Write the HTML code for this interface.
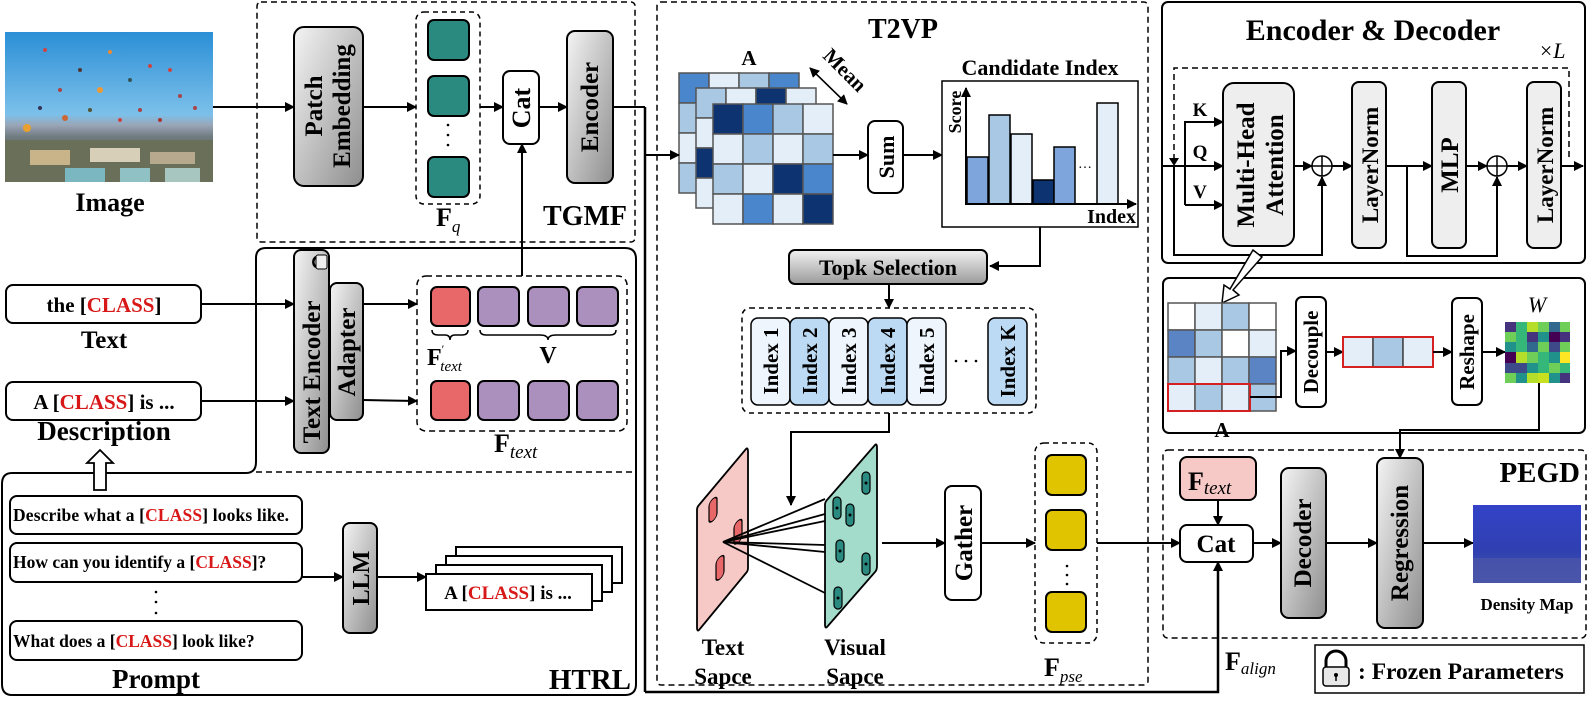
<!DOCTYPE html>
<html><head><meta charset="utf-8"><style>
html,body{margin:0;padding:0;background:#fff;}
svg{display:block;font-family:"Liberation Serif",serif;font-weight:bold;}
</style></head><body>
<svg width="1595" height="708" viewBox="0 0 1595 708" xmlns="http://www.w3.org/2000/svg">
<defs>
<marker id="ar" markerWidth="10" markerHeight="10" refX="9" refY="5" orient="auto" markerUnits="userSpaceOnUse">
<path d="M0,0 L10,5 L0,10 z" fill="#000"/></marker>
<linearGradient id="gg" x1="0" y1="0" x2="1" y2="1">
<stop offset="0" stop-color="#f4f4f4"/><stop offset="1" stop-color="#8e8e8e"/></linearGradient>
<linearGradient id="gv" x1="0" y1="0" x2="0" y2="1">
<stop offset="0" stop-color="#f2f2f2"/><stop offset="1" stop-color="#9a9a9a"/></linearGradient>
<linearGradient id="sky" x1="0" y1="0" x2="0" y2="1">
<stop offset="0" stop-color="#2b8fd6"/><stop offset="0.55" stop-color="#7cc0ea"/><stop offset="0.62" stop-color="#9aa6b8"/><stop offset="0.7" stop-color="#6f7a80"/><stop offset="1" stop-color="#4a5a50"/></linearGradient>
<linearGradient id="dm" x1="0" y1="0" x2="0" y2="1">
<stop offset="0" stop-color="#3342c8"/><stop offset="0.6" stop-color="#3040b0"/><stop offset="1" stop-color="#4a58b0"/></linearGradient>
</defs>
<g stroke="#000" stroke-width="2" fill="none">

<!-- Image -->
<rect x="5" y="32" width="208" height="150" fill="url(#sky)" stroke="none"/>
<g stroke="none">
<rect x="5" y="140" width="208" height="42" fill="#6a6f5a"/>
<rect x="30" y="150" width="40" height="15" fill="#c9b48a"/><rect x="90" y="148" width="50" height="14" fill="#d8cfb8"/><rect x="150" y="152" width="45" height="12" fill="#b7a98e"/>
<rect x="65" y="168" width="40" height="14" fill="#7bb7c0"/><rect x="120" y="168" width="30" height="14" fill="#8fc1c5"/><rect x="165" y="168" width="35" height="14" fill="#a7c6c0"/>
<circle cx="45" cy="50" r="2" fill="#c44"/><circle cx="110" cy="52" r="2" fill="#e83"/><circle cx="150" cy="66" r="2" fill="#c44"/><circle cx="80" cy="70" r="2" fill="#533"/><circle cx="60" cy="90" r="2" fill="#a44"/><circle cx="100" cy="90" r="3" fill="#e93"/><circle cx="130" cy="80" r="2" fill="#355"/><circle cx="170" cy="70" r="2" fill="#c44"/><circle cx="180" cy="96" r="2" fill="#a44"/><circle cx="27" cy="128" r="4" fill="#e9a030"/><circle cx="65" cy="118" r="3" fill="#c63"/><circle cx="140" cy="110" r="2" fill="#a44"/><circle cx="160" cy="120" r="2" fill="#a33"/><circle cx="40" cy="108" r="2" fill="#335"/><circle cx="195" cy="108" r="2" fill="#a44"/><circle cx="120" cy="120" r="2" fill="#c44"/><circle cx="90" cy="110" r="2" fill="#553"/>
</g>
<text x="110" y="211" font-size="26" fill="#000" stroke="none" text-anchor="middle">Image</text>

<!-- TGMF -->
<rect x="257" y="2" width="378" height="240" rx="4" stroke-dasharray="6,4" stroke-width="1.5"/>
<rect x="294" y="27" width="69" height="159" rx="10" fill="url(#gg)"/>
<text transform="translate(322,106) rotate(-90)" font-size="25" fill="#000" stroke="none" text-anchor="middle">Patch</text>
<text transform="translate(350,106) rotate(-90)" font-size="25" fill="#000" stroke="none" text-anchor="middle">Embedding</text>
<rect x="416" y="12" width="64" height="192" rx="8" stroke-dasharray="5,4" stroke-width="1.5"/>
<rect x="428" y="20" width="41" height="40" rx="6" fill="#2a8a80"/>
<rect x="428" y="76" width="41" height="40" rx="6" fill="#2a8a80"/>
<rect x="428" y="157" width="41" height="40" rx="6" fill="#2a8a80"/>
<g fill="#000" stroke="none"><circle cx="448" cy="125" r="1.3"/><circle cx="448" cy="135" r="1.3"/><circle cx="448" cy="145" r="1.3"/></g>
<rect x="503" y="71" width="36" height="73" rx="7" fill="#fff"/>
<text transform="translate(530,108) rotate(-90)" font-size="26" fill="#000" stroke="none" text-anchor="middle">Cat</text>
<rect x="567" y="31" width="46" height="152" rx="8" fill="url(#gg)"/>
<text transform="translate(598,107) rotate(-90)" font-size="25" fill="#000" stroke="none" text-anchor="middle">Encoder</text>
<line x1="213" y1="107" x2="294" y2="107" marker-end="url(#ar)"/>
<line x1="363" y1="107" x2="416" y2="107" marker-end="url(#ar)"/>
<line x1="480" y1="107" x2="503" y2="107" marker-end="url(#ar)"/>
<line x1="539" y1="107" x2="567" y2="107" marker-end="url(#ar)"/>
<text x="436" y="226" font-size="26" fill="#000" stroke="none">F<tspan font-style="italic" font-weight="normal" font-size="17" dy="6">q</tspan></text>
<text x="627" y="225" font-size="28" fill="#000" stroke="none" text-anchor="end">TGMF</text>

<!-- HTRL outline -->
<path d="M266,248 H625 Q636,248 636,259 V684 Q636,695 625,695 H12 Q2,695 2,684 V484 Q2,473 12,473 H246 Q256,473 256,462 V258 Q256,248 266,248 Z" stroke-width="2"/>
<line x1="256" y1="472" x2="636" y2="472" stroke-dasharray="6,4" stroke-width="1.5"/>
<rect x="294" y="250" width="35" height="203" rx="7" fill="url(#gg)"/>
<rect x="316" y="255" width="11" height="14" rx="2" fill="#eee" stroke-width="1"/>
<path d="M316,257 A6,6 0 0 0 316,267" stroke-width="2.5"/>
<text transform="translate(320,372) rotate(-90)" font-size="25" fill="#000" stroke="none" text-anchor="middle">Text Encoder</text>
<rect x="330" y="283" width="33" height="137" rx="7" fill="url(#gg)"/>
<text transform="translate(355,352) rotate(-90)" font-size="25" fill="#000" stroke="none" text-anchor="middle">Adapter</text>
<rect x="6" y="285" width="195" height="38" rx="7" fill="#fff"/>
<text x="104" y="312" font-size="21" fill="#000" stroke="none" text-anchor="middle">the [<tspan fill="#d81818">CLASS</tspan>]</text>
<text x="104" y="348" font-size="25" fill="#000" stroke="none" text-anchor="middle">Text</text>
<rect x="6" y="382" width="195" height="38" rx="7" fill="#fff"/>
<text x="104" y="409" font-size="21" fill="#000" stroke="none" text-anchor="middle">A [<tspan fill="#d81818">CLASS</tspan>] is ...</text>
<text x="104" y="440" font-size="27" fill="#000" stroke="none" text-anchor="middle">Description</text>
<line x1="201" y1="304" x2="294" y2="304" marker-end="url(#ar)"/>
<line x1="201" y1="401" x2="294" y2="401" marker-end="url(#ar)"/>
<line x1="363" y1="304" x2="417" y2="304" marker-end="url(#ar)"/>
<line x1="363" y1="400" x2="417" y2="401" marker-end="url(#ar)"/>
<rect x="417" y="276" width="210" height="155" rx="9" stroke-dasharray="6,4" stroke-width="1.5"/>
<rect x="431" y="287" width="39" height="39" rx="6" fill="#e8686a"/>
<rect x="478" y="287" width="41" height="39" rx="6" fill="#ab8fbd"/>
<rect x="528" y="287" width="41" height="39" rx="6" fill="#ab8fbd"/>
<rect x="577" y="287" width="41" height="39" rx="6" fill="#ab8fbd"/>
<rect x="431" y="381" width="39" height="39" rx="6" fill="#e8686a"/>
<rect x="478" y="381" width="41" height="39" rx="6" fill="#ab8fbd"/>
<rect x="528" y="381" width="41" height="39" rx="6" fill="#ab8fbd"/>
<rect x="577" y="381" width="41" height="39" rx="6" fill="#ab8fbd"/>
<path d="M432,330 q0,5 6,5 h7 q5,0 5,5 q0,-5 5,-5 h7 q6,0 6,-5" stroke-width="1.5"/>
<path d="M480,330 q0,5 6,5 h54 q8,0 8,5 q0,-5 8,-5 h54 q6,0 6,-5" stroke-width="1.5"/>
<text x="427" y="365" font-size="24" fill="#000" stroke="none">F<tspan font-size="12" dy="-12" font-weight="normal">′</tspan><tspan font-style="italic" font-weight="normal" font-size="15" dx="-4" dy="18">text</tspan></text>
<text x="548" y="363" font-size="24" fill="#000" stroke="none" text-anchor="middle">V</text>
<text x="494" y="452" font-size="26" fill="#000" stroke="none">F<tspan font-style="italic" font-weight="normal" font-size="19" dy="6">text</tspan></text>
<line x1="522" y1="276" x2="522" y2="144" marker-end="url(#ar)"/>

<!-- Prompt area -->
<path d="M94,490 V463 H87 L100,450 L113,463 H106 V490 Z" fill="#fff" stroke-width="1.8"/>
<rect x="10" y="496" width="292" height="38" rx="7" fill="#fff"/>
<text x="13" y="521" font-size="17.5" fill="#000" stroke="none" textLength="276">Describe what a [<tspan fill="#d81818">CLASS</tspan>] looks like.</text>
<rect x="10" y="543" width="292" height="39" rx="7" fill="#fff"/>
<text x="13" y="568" font-size="17.5" fill="#000" stroke="none">How can you identify a [<tspan fill="#d81818">CLASS</tspan>]?</text>
<g fill="#000" stroke="none"><circle cx="156" cy="592" r="1.3"/><circle cx="156" cy="602" r="1.3"/><circle cx="156" cy="613" r="1.3"/></g>
<rect x="10" y="621" width="292" height="39" rx="7" fill="#fff"/>
<text x="13" y="647" font-size="17.5" fill="#000" stroke="none">What does a [<tspan fill="#d81818">CLASS</tspan>] look like?</text>
<text x="156" y="688" font-size="27" fill="#000" stroke="none" text-anchor="middle">Prompt</text>
<rect x="343" y="523" width="34" height="110" rx="7" fill="url(#gg)"/>
<text transform="translate(369,578) rotate(-90)" font-size="24" fill="#000" stroke="none" text-anchor="middle">LLM</text>
<line x1="302" y1="577" x2="343" y2="577" marker-end="url(#ar)"/>
<line x1="377" y1="577" x2="426" y2="577" marker-end="url(#ar)"/>
<rect x="456" y="547" width="166" height="36" fill="#fff"/>
<rect x="446" y="556" width="166" height="36" fill="#fff"/>
<rect x="436" y="565" width="166" height="36" fill="#fff"/>
<rect x="426" y="574" width="166" height="36" fill="#fff"/>
<text x="508" y="599" font-size="19" fill="#000" stroke="none" text-anchor="middle">A [<tspan fill="#d81818">CLASS</tspan>] is  ...</text>
<text x="631" y="689" font-size="29" fill="#000" stroke="none" text-anchor="end">HTRL</text>

<!-- T2VP -->
<rect x="657" y="2" width="491" height="683" rx="4" stroke-dasharray="6,4" stroke-width="1.5"/>
<text x="903" y="38" font-size="28" fill="#000" stroke="none" text-anchor="middle">T2VP</text>
<text x="749" y="65" font-size="21" fill="#000" stroke="none" text-anchor="middle">A</text>
<g stroke="#555" stroke-width="1.5">
<g transform="translate(679,73)">
<rect x="0" y="0" width="30" height="30" fill="#4a86cc"/><rect x="30" y="0" width="30" height="30" fill="#e3eef9"/><rect x="60" y="0" width="30" height="30" fill="#a8c8e4"/><rect x="90" y="0" width="30" height="30" fill="#4a86cc"/>
<rect x="0" y="30" width="30" height="30" fill="#a8c8e4"/><rect x="0" y="60" width="30" height="30" fill="#e3eef9"/><rect x="0" y="90" width="30" height="30" fill="#a8c8e4"/>
</g>
<g transform="translate(696,88)">
<rect x="0" y="0" width="30" height="30" fill="#a8c8e4"/><rect x="30" y="0" width="30" height="30" fill="#e3eef9"/><rect x="60" y="0" width="30" height="30" fill="#0d3370"/><rect x="90" y="0" width="30" height="30" fill="#e3eef9"/>
<rect x="0" y="30" width="30" height="30" fill="#e3eef9"/><rect x="0" y="60" width="30" height="30" fill="#0d3370"/><rect x="0" y="90" width="30" height="30" fill="#e3eef9"/>
</g>
<g transform="translate(713,104)">
<rect x="0" y="0" width="30" height="30" fill="#0d3370"/><rect x="30" y="0" width="30" height="30" fill="#4a86cc"/><rect x="60" y="0" width="30" height="30" fill="#a8c8e4"/><rect x="90" y="0" width="30" height="30" fill="#e3eef9"/>
<rect x="0" y="30" width="30" height="30" fill="#e3eef9"/><rect x="30" y="30" width="30" height="30" fill="#a8c8e4"/><rect x="60" y="30" width="30" height="30" fill="#e3eef9"/><rect x="90" y="30" width="30" height="30" fill="#a8c8e4"/>
<rect x="0" y="60" width="30" height="30" fill="#a8c8e4"/><rect x="30" y="60" width="30" height="30" fill="#e3eef9"/><rect x="60" y="60" width="30" height="30" fill="#0d3370"/><rect x="90" y="60" width="30" height="30" fill="#4a86cc"/>
<rect x="0" y="90" width="30" height="30" fill="#e3eef9"/><rect x="30" y="90" width="30" height="30" fill="#4a86cc"/><rect x="60" y="90" width="30" height="30" fill="#e3eef9"/><rect x="90" y="90" width="30" height="30" fill="#0d3370"/>
</g>
</g>
<line x1="812" y1="70" x2="847" y2="104" stroke-width="1.5" marker-end="url(#ar)"/>
<line x1="847" y1="104" x2="810" y2="68" stroke-width="1.5" marker-end="url(#ar)"/>
<text transform="translate(840,75) rotate(45)" font-size="21" fill="#000" stroke="none" text-anchor="middle">Mean</text>
<line x1="645" y1="107" x2="645" y2="692" stroke-width="2.5"/>
<line x1="613" y1="107" x2="645" y2="107"/>
<line x1="645" y1="155" x2="679" y2="155" marker-end="url(#ar)"/>
<line x1="833" y1="155" x2="868" y2="155" marker-end="url(#ar)"/>
<rect x="868" y="121" width="35" height="72" rx="7" fill="#fff"/>
<text transform="translate(894,157) rotate(-90)" font-size="22" fill="#000" stroke="none" text-anchor="middle">Sum</text>
<line x1="903" y1="155" x2="942" y2="155" marker-end="url(#ar)"/>
<text x="1040" y="75" font-size="22" fill="#000" stroke="none" text-anchor="middle">Candidate Index</text>
<rect x="942" y="81" width="196" height="146" fill="#fff" stroke-width="1.5"/>
<g stroke-width="1.5">
<rect x="967" y="157" width="21" height="47" fill="#7fa6dc"/>
<rect x="989" y="115" width="21" height="89" fill="#a8c8e4"/>
<rect x="1011" y="134" width="21" height="70" fill="#e3eef9"/>
<rect x="1033" y="180" width="21" height="24" fill="#0d3370"/>
<rect x="1054" y="147" width="21" height="57" fill="#7fa6dc"/>
<rect x="1097" y="103" width="21" height="101" fill="#e3eef9"/>
</g>
<line x1="966" y1="205" x2="966" y2="88" marker-end="url(#ar)"/>
<line x1="966" y1="204" x2="1136" y2="204" marker-end="url(#ar)"/>
<text x="1085" y="168" font-size="14" fill="#000" stroke="none" text-anchor="middle" font-weight="normal">…</text>
<text transform="translate(961,112) rotate(-90)" font-size="18" fill="#000" stroke="none" text-anchor="middle">Score</text>
<text x="1136" y="223" font-size="20" fill="#000" stroke="none" text-anchor="end">Index</text>
<path d="M1040,227 V266 H990" marker-end="url(#ar)"/>
<rect x="789" y="250" width="198" height="34" rx="6" fill="url(#gv)"/>
<text x="888" y="275" font-size="22" fill="#000" stroke="none" text-anchor="middle">Topk Selection</text>
<line x1="889" y1="284" x2="889" y2="308" marker-end="url(#ar)"/>
<rect x="742" y="308" width="294" height="105" rx="8" stroke-dasharray="5,4" stroke-width="1.5"/>
<g stroke-width="1.5">
<rect x="751" y="318" width="39" height="87" rx="7" fill="#eef5fc"/>
<rect x="790" y="318" width="39" height="87" rx="7" fill="#bcdaf3"/>
<rect x="829" y="318" width="39" height="87" rx="7" fill="#eef5fc"/>
<rect x="868" y="318" width="39" height="87" rx="7" fill="#bcdaf3"/>
<rect x="907" y="318" width="39" height="87" rx="7" fill="#eef5fc"/>
<rect x="988" y="318" width="39" height="87" rx="7" fill="#bcdaf3"/>
</g>
<g font-size="21" fill="#000" stroke="none" text-anchor="middle">
<text transform="translate(778,361) rotate(-90)">Index 1</text>
<text transform="translate(817,361) rotate(-90)">Index 2</text>
<text transform="translate(856,361) rotate(-90)">Index 3</text>
<text transform="translate(895,361) rotate(-90)">Index 4</text>
<text transform="translate(934,361) rotate(-90)">Index 5</text>
<text transform="translate(1015,361) rotate(-90)">Index K</text>
</g>
<g fill="#000" stroke="none"><circle cx="956" cy="361" r="1.3"/><circle cx="966" cy="361" r="1.3"/><circle cx="976" cy="361" r="1.3"/></g>
<path d="M889,413 V432 H791 V505" marker-end="url(#ar)"/>
<path d="M699,505 L746,449 Q748,447 748,452 V568 Q748,571 746,573 L699,630 Q697,632 697,627 V510 Q697,507 699,505 Z" fill="#f7c9c6" stroke-width="1.8"/>
<g fill="#e8686a" stroke-width="1.2">
<rect x="709" y="502" width="8" height="22" rx="4" transform="skewY(-40) translate(0,595)"/>
<rect x="734" y="524" width="8" height="22" rx="4" transform="skewY(-40) translate(0,616)"/>
<rect x="716" y="560" width="8" height="22" rx="4" transform="skewY(-40) translate(0,601)"/>
</g>
<path d="M827,500 L875,445 Q877,443 877,448 V566 Q877,570 875,572 L827,627 Q825,629 825,624 V505 Q825,502 827,500 Z" fill="#a4dccc" stroke-width="1.8"/>
<g fill="#2a8a80" stroke-width="1.2">
<rect x="862" y="472" width="8" height="22" rx="4"/><rect x="833" y="497" width="8" height="22" rx="4"/><rect x="846" y="504" width="8" height="22" rx="4"/>
<rect x="836" y="540" width="8" height="22" rx="4"/><rect x="862" y="553" width="8" height="22" rx="4"/><rect x="834" y="587" width="8" height="22" rx="4"/>
</g>
<g fill="#000" stroke="none"><circle cx="866" cy="483" r="1.5"/><circle cx="837" cy="508" r="1.5"/><circle cx="850" cy="515" r="1.5"/><circle cx="840" cy="551" r="1.5"/><circle cx="866" cy="564" r="1.5"/><circle cx="838" cy="598" r="1.5"/></g>
<g stroke-width="1.8">
<line x1="723" y1="542" x2="825" y2="499"/><line x1="723" y1="542" x2="825" y2="514"/><line x1="723" y1="542" x2="825" y2="521"/>
<line x1="723" y1="542" x2="825" y2="545"/><line x1="723" y1="542" x2="825" y2="552"/><line x1="723" y1="542" x2="825" y2="593"/>
</g>
<g font-size="23" fill="#000" stroke="none" text-anchor="middle">
<text x="723" y="655">Text</text><text x="723" y="684">Sapce</text>
<text x="855" y="655">Visual</text><text x="855" y="684">Sapce</text>
</g>
<line x1="882" y1="543" x2="945" y2="543" marker-end="url(#ar)"/>
<rect x="945" y="486" width="36" height="114" rx="7" fill="#fff"/>
<text transform="translate(972,543) rotate(-90)" font-size="25" fill="#000" stroke="none" text-anchor="middle">Gather</text>
<line x1="981" y1="543" x2="1035" y2="543" marker-end="url(#ar)"/>
<rect x="1035" y="443" width="62" height="200" rx="9" stroke-dasharray="5,4" stroke-width="1.5"/>
<rect x="1046" y="455" width="40" height="40" rx="6" fill="#e0c400"/>
<rect x="1046" y="510" width="40" height="40" rx="6" fill="#e0c400"/>
<rect x="1046" y="592" width="40" height="40" rx="6" fill="#e0c400"/>
<g fill="#000" stroke="none"><circle cx="1067" cy="566" r="1.3"/><circle cx="1067" cy="575" r="1.3"/><circle cx="1067" cy="584" r="1.3"/></g>
<text x="1044" y="676" font-size="26" fill="#000" stroke="none">F<tspan font-style="italic" font-weight="normal" font-size="17" dy="6">pse</tspan></text>
<line x1="1097" y1="543" x2="1180" y2="543" marker-end="url(#ar)"/>
<path d="M645,692 H1218 V562" stroke-width="2.5" marker-end="url(#ar)"/>

<!-- Encoder & Decoder -->
<rect x="1162" y="2" width="423" height="261" rx="6"/>
<text x="1373" y="40" font-size="30" fill="#000" stroke="none" text-anchor="middle">Encoder &amp; Decoder</text>
<text x="1552" y="58" font-size="22" fill="#000" stroke="none" font-weight="normal" font-style="italic" text-anchor="middle">×L</text>
<path d="M1174,160 V68 H1569 V160" stroke-dasharray="6,4" stroke-width="1.5"/>
<path d="M1169,158 L1179,158 L1174,166 Z" fill="#000" stroke="none"/>
<line x1="1162" y1="166" x2="1223" y2="166" marker-end="url(#ar)"/>
<path d="M1185,205 V122 H1223" marker-end="url(#ar)"/>
<line x1="1185" y1="205" x2="1223" y2="205" marker-end="url(#ar)"/>
<g font-size="19" fill="#000" stroke="none" text-anchor="middle"><text x="1200" y="116">K</text><text x="1200" y="158">Q</text><text x="1200" y="198">V</text></g>
<rect x="1223" y="83" width="71" height="163" rx="11" fill="#eeeeee"/>
<text transform="translate(1254,165) rotate(-90)" font-size="25" fill="#000" stroke="none" text-anchor="middle">Multi-Head</text>
<text transform="translate(1283,165) rotate(-90)" font-size="25" fill="#000" stroke="none" text-anchor="middle">Attention</text>
<line x1="1294" y1="166" x2="1312" y2="166" marker-end="url(#ar)"/>
<circle cx="1322" cy="166" r="10" stroke-width="1.5"/><path d="M1312,166 H1332 M1322,156 V176" stroke-width="1.5"/>
<path d="M1174,166 V255 H1322 V177" marker-end="url(#ar)"/>
<line x1="1332" y1="166" x2="1352" y2="166" marker-end="url(#ar)"/>
<rect x="1352" y="82" width="34" height="166" rx="7" fill="#eeeeee"/>
<text transform="translate(1378,165) rotate(-90)" font-size="23" fill="#000" stroke="none" text-anchor="middle">LayerNorm</text>
<line x1="1386" y1="166" x2="1432" y2="166" marker-end="url(#ar)"/>
<rect x="1432" y="82" width="34" height="166" rx="7" fill="#eeeeee"/>
<text transform="translate(1458,165) rotate(-90)" font-size="25" fill="#000" stroke="none" text-anchor="middle">MLP</text>
<line x1="1466" y1="166" x2="1487" y2="166" marker-end="url(#ar)"/>
<circle cx="1497" cy="166" r="10" stroke-width="1.5"/><path d="M1487,166 H1507 M1497,156 V176" stroke-width="1.5"/>
<path d="M1407,166 V256 H1497 V177" marker-end="url(#ar)"/>
<line x1="1507" y1="166" x2="1527" y2="166" marker-end="url(#ar)"/>
<rect x="1527" y="82" width="34" height="166" rx="7" fill="#eeeeee"/>
<text transform="translate(1553,165) rotate(-90)" font-size="23" fill="#000" stroke="none" text-anchor="middle">LayerNorm</text>
<line x1="1561" y1="166" x2="1583" y2="166" marker-end="url(#ar)"/>

<!-- attention map box -->
<rect x="1163" y="278" width="422" height="155" rx="6"/>
<path d="M1253,250 L1262,257 L1233,290 L1239,295 L1222,303 L1224,285 L1230,289 Z" fill="#fff" stroke-width="1.5"/>
<g stroke="#555" stroke-width="1.5" transform="translate(1168,303)">
<rect x="0" y="0" width="27" height="27" fill="#fff"/><rect x="27" y="0" width="27" height="27" fill="#e3eef9"/><rect x="54" y="0" width="27" height="27" fill="#a8c8e4"/><rect x="81" y="0" width="27" height="27" fill="#fff"/>
<rect x="0" y="27" width="27" height="27" fill="#5b84c4"/><rect x="27" y="27" width="27" height="27" fill="#a8c8e4"/><rect x="54" y="27" width="27" height="27" fill="#fff"/><rect x="81" y="27" width="27" height="27" fill="#e3eef9"/>
<rect x="0" y="54" width="27" height="27" fill="#a8c8e4"/><rect x="27" y="54" width="27" height="27" fill="#e3eef9"/><rect x="54" y="54" width="27" height="27" fill="#a8c8e4"/><rect x="81" y="54" width="27" height="27" fill="#5b84c4"/>
<rect x="0" y="81" width="27" height="27" fill="#e3eef9"/><rect x="27" y="81" width="27" height="27" fill="#a8c8e4"/><rect x="54" y="81" width="27" height="27" fill="#e3eef9"/><rect x="81" y="81" width="27" height="27" fill="#a8c8e4"/>
</g>
<rect x="1168" y="384" width="82" height="27" stroke="#d42020" stroke-width="2"/>
<text x="1222" y="437" font-size="21" fill="#000" stroke="none" text-anchor="middle">A</text>
<path d="M1250,397 H1281 V351 H1296" marker-end="url(#ar)"/>
<rect x="1296" y="297" width="30" height="110" rx="6" fill="#fff"/>
<text transform="translate(1318,352) rotate(-90)" font-size="21" fill="#000" stroke="none" text-anchor="middle">Decouple</text>
<line x1="1326" y1="352" x2="1343" y2="352" marker-end="url(#ar)"/>
<g stroke="#444" stroke-width="1.5"><rect x="1343" y="337" width="30" height="30" fill="#e3eef9"/><rect x="1373" y="337" width="30" height="30" fill="#a8c8e4"/><rect x="1403" y="337" width="30" height="30" fill="#e3eef9"/></g>
<rect x="1343" y="337" width="90" height="30" stroke="#d42020" stroke-width="2"/>
<line x1="1433" y1="352" x2="1452" y2="352" marker-end="url(#ar)"/>
<rect x="1452" y="298" width="30" height="107" rx="6" fill="#fff"/>
<text transform="translate(1474,352) rotate(-90)" font-size="21" fill="#000" stroke="none" text-anchor="middle">Reshape</text>
<line x1="1482" y1="352" x2="1505" y2="352" marker-end="url(#ar)"/>
<g stroke="none" transform="translate(1505,322)">
<rect x="0" y="0" width="11" height="10" fill="#46337e"/><rect x="11" y="0" width="11" height="10" fill="#35b779"/><rect x="22" y="0" width="11" height="10" fill="#b5de2b"/><rect x="33" y="0" width="11" height="10" fill="#6ece58"/><rect x="44" y="0" width="11" height="10" fill="#31688e"/><rect x="55" y="0" width="10" height="10" fill="#6ece58"/>
<rect x="0" y="10" width="11" height="10" fill="#6ece58"/><rect x="11" y="10" width="11" height="10" fill="#35b779"/><rect x="22" y="10" width="11" height="10" fill="#46337e"/><rect x="33" y="10" width="11" height="10" fill="#21918c"/><rect x="44" y="10" width="11" height="10" fill="#440154"/><rect x="55" y="10" width="10" height="10" fill="#46337e"/>
<rect x="0" y="20" width="11" height="10" fill="#21918c"/><rect x="11" y="20" width="11" height="10" fill="#35b779"/><rect x="22" y="20" width="11" height="10" fill="#31688e"/><rect x="33" y="20" width="11" height="10" fill="#6ece58"/><rect x="44" y="20" width="11" height="10" fill="#3e4989"/><rect x="55" y="20" width="10" height="10" fill="#6ece58"/>
<rect x="0" y="30" width="11" height="11" fill="#440154"/><rect x="11" y="30" width="11" height="11" fill="#b5de2b"/><rect x="22" y="30" width="11" height="11" fill="#6ece58"/><rect x="33" y="30" width="11" height="11" fill="#35b779"/><rect x="44" y="30" width="11" height="11" fill="#21918c"/><rect x="55" y="30" width="10" height="11" fill="#fde725"/>
<rect x="0" y="41" width="11" height="10" fill="#3e4989"/><rect x="11" y="41" width="11" height="10" fill="#3e4989"/><rect x="22" y="41" width="11" height="10" fill="#21918c"/><rect x="33" y="41" width="11" height="10" fill="#35b779"/><rect x="44" y="41" width="11" height="10" fill="#6ece58"/><rect x="55" y="41" width="10" height="10" fill="#35b779"/>
<rect x="0" y="51" width="11" height="10" fill="#6ece58"/><rect x="11" y="51" width="11" height="10" fill="#21918c"/><rect x="22" y="51" width="11" height="10" fill="#b5de2b"/><rect x="33" y="51" width="11" height="10" fill="#c8e020"/><rect x="44" y="51" width="11" height="10" fill="#21918c"/><rect x="55" y="51" width="10" height="10" fill="#46337e"/>
</g>
<text x="1537" y="312" font-size="22" fill="#000" stroke="none" font-weight="normal" font-style="italic" text-anchor="middle">W</text>
<path d="M1539,383 V430 H1400 V458" marker-end="url(#ar)"/>

<!-- PEGD -->
<rect x="1163" y="450" width="423" height="188" rx="5" stroke-dasharray="6,4" stroke-width="1.5"/>
<text x="1580" y="482" font-size="29" fill="#000" stroke="none" text-anchor="end">PEGD</text>
<rect x="1180" y="457" width="76" height="43" rx="7" fill="#f7c9c6"/>
<text x="1188" y="490" font-size="26" fill="#000" stroke="none">F<tspan font-style="italic" font-weight="normal" font-size="19" dy="4">text</tspan></text>
<line x1="1218" y1="500" x2="1218" y2="525" marker-end="url(#ar)"/>
<rect x="1180" y="525" width="73" height="37" rx="7" fill="#fff"/>
<text x="1216" y="552" font-size="25" fill="#000" stroke="none" text-anchor="middle">Cat</text>
<line x1="1253" y1="543" x2="1281" y2="543" marker-end="url(#ar)"/>
<rect x="1281" y="468" width="45" height="150" rx="8" fill="url(#gg)"/>
<text transform="translate(1311,543) rotate(-90)" font-size="25" fill="#000" stroke="none" text-anchor="middle">Decoder</text>
<line x1="1326" y1="543" x2="1377" y2="543" marker-end="url(#ar)"/>
<rect x="1377" y="458" width="46" height="170" rx="8" fill="url(#gg)"/>
<text transform="translate(1408,543) rotate(-90)" font-size="25" fill="#000" stroke="none" text-anchor="middle">Regression</text>
<line x1="1423" y1="543" x2="1473" y2="543" marker-end="url(#ar)"/>
<rect x="1473" y="505" width="108" height="78" fill="url(#dm)" stroke="none"/>
<rect x="1473" y="558" width="108" height="25" fill="#4a55a8" stroke="none" opacity="0.8"/>
<text x="1527" y="610" font-size="17" fill="#000" stroke="none" text-anchor="middle">Density Map</text>
<text x="1225" y="670" font-size="26" fill="#000" stroke="none">F<tspan font-style="italic" font-weight="normal" font-size="17" dy="4">align</tspan></text>
<rect x="1315" y="645" width="269" height="48" stroke-width="1.5"/>
<path d="M1326,667 V661 A10,10 0 0 1 1346,661 V667" stroke-width="3"/>
<rect x="1323" y="667" width="26" height="19" rx="3" fill="#e8e8e8" stroke-width="1.5"/>
<circle cx="1336" cy="675" r="2" fill="#000" stroke="none"/><line x1="1336" y1="675" x2="1336" y2="681" stroke-width="1.5"/>
<text x="1358" y="679" font-size="23.5" fill="#000" stroke="none">: Frozen Parameters</text>
</g>
</svg>
</body></html>
